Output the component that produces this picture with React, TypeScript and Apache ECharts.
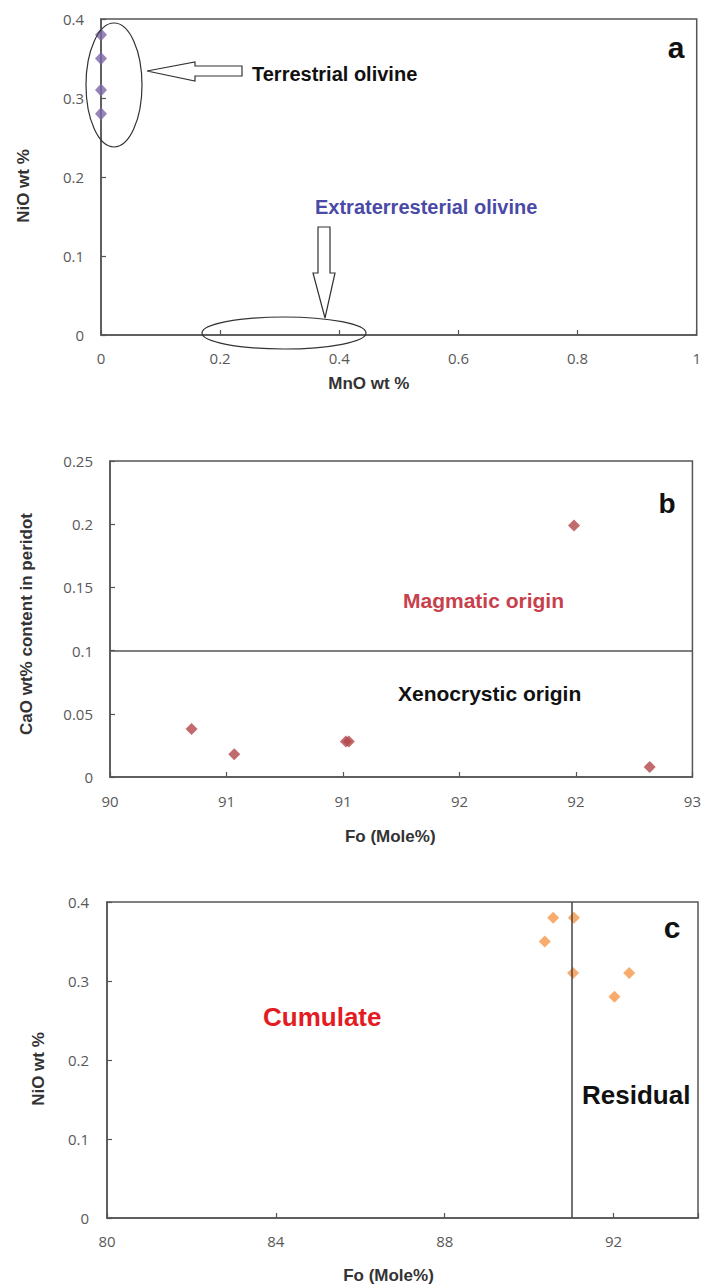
import React, { useEffect, useRef } from "react";
import * as echarts from "echarts";

// Panel a: MnO vs NiO (terrestrial olivine)
const aMnO = [0, 0, 0, 0];
const aNiO = [0.38, 0.35, 0.31, 0.28];
const aXTicks = { min: 0, max: 1, interval: 0.2 };
const aYTicks = { min: 0, max: 0.4, interval: 0.1 };

// Panel b: Fo vs CaO
const bFo = [90.42, 90.64, 91.215, 91.23, 92.39, 92.78];
const bCaO = [0.038, 0.018, 0.028, 0.028, 0.199, 0.008];
const bBoundaryCaO = 0.1;
const bXTicks = { min: 90, max: 93, interval: 0.6 };
const bYTicks = { min: 0, max: 0.25, interval: 0.05 };

// Panel c: Fo vs NiO
const cFo = [90.57, 91.06, 90.37, 91.04, 92.37, 92.02];
const cNiO = [0.38, 0.38, 0.35, 0.31, 0.31, 0.28];
const cBoundaryFo = 91;
const cXTicks = { min: 80, max: 94, interval: 4 };
const cYTicks = { min: 0, max: 0.4, interval: 0.1 };

const zip = (xs: number[], ys: number[]) => xs.map((x, i) => [x, ys[i]]);

const TITLE_FONT = "Liberation Sans";

export default function App() {
  const ref = useRef<HTMLDivElement>(null);

  useEffect(() => {
    if (!ref.current) return;
    const chart = echarts.init(ref.current, null, { renderer: "svg" });

    const axisBase = (extra: any) => ({
      type: "value",
      nameLocation: "middle",
      axisLine: { show: true, onZero: false, lineStyle: { color: "#555", width: 1.5 } },
      axisTick: { show: true, inside: true, length: 5, lineStyle: { color: "#555", width: 1.2 } },
      splitLine: { show: false },
      axisLabel: { color: "#595959", fontSize: 15, fontFamily: "Open Sans" },
      nameTextStyle: { fontFamily: TITLE_FONT, fontWeight: "bold", fontSize: 17, color: "#333" },
      ...extra,
    });

    const gridStyle = { show: true, borderColor: "#555", borderWidth: 1.5, containLabel: false };

    const option: any = {
      animation: false,
      backgroundColor: "#fff",
      grid: [
        { ...gridStyle, left: 101, top: 19, width: 596, height: 316 },
        { ...gridStyle, left: 110, top: 461, width: 583, height: 316 },
        { ...gridStyle, left: 107, top: 902, width: 591, height: 316 },
      ],
      xAxis: [
        axisBase({
          gridIndex: 0,
          ...aXTicks,
          name: "MnO wt %",
          nameGap: 40,
          nameTextStyle: { fontFamily: TITLE_FONT, fontWeight: "bold", fontSize: 17, color: "#333", padding: [0, 60, 0, 0] },
          axisLabel: { color: "#595959", fontSize: 15, fontFamily: "Open Sans", margin: 15 },
        }),
        axisBase({
          gridIndex: 1,
          ...bXTicks,
          name: "Fo (Mole%)",
          nameGap: 51,
          nameTextStyle: { fontFamily: TITLE_FONT, fontWeight: "bold", fontSize: 17, color: "#333", padding: [0, 22, 0, 0] },
          axisLabel: {
            color: "#595959", fontSize: 15, fontFamily: "Open Sans", margin: 16,
            formatter: (v: number) => String(Math.round(v)),
          },
        }),
        axisBase({
          gridIndex: 2,
          ...cXTicks,
          name: "Fo (Mole%)",
          nameGap: 49,
          nameTextStyle: { fontFamily: TITLE_FONT, fontWeight: "bold", fontSize: 17, color: "#333", padding: [0, 28, 0, 0] },
          axisLabel: {
            color: "#595959", fontSize: 15, fontFamily: "Open Sans", margin: 15,
            formatter: (v: number) => ((v - cXTicks.min) % cXTicks.interval === 0 ? String(v) : ""),
          },
        }),
      ],
      yAxis: [
        axisBase({
          gridIndex: 0,
          ...aYTicks,
          name: "NiO wt %",
          nameGap: 69,
          nameTextStyle: { fontFamily: TITLE_FONT, fontWeight: "bold", fontSize: 17, color: "#333", padding: [0, 18, 0, 0] },
          axisLabel: { color: "#595959", fontSize: 15, fontFamily: "Open Sans", margin: 17 },
        }),
        axisBase({
          gridIndex: 1,
          ...bYTicks,
          name: "CaO wt% content in peridot",
          nameGap: 75,
          nameTextStyle: { fontFamily: TITLE_FONT, fontWeight: "bold", fontSize: 17, color: "#333", padding: [0, 10, 0, 0] },
          axisLabel: { color: "#595959", fontSize: 15, fontFamily: "Open Sans", margin: 17 },
        }),
        axisBase({
          gridIndex: 2,
          ...cYTicks,
          name: "NiO wt %",
          nameGap: 60,
          nameTextStyle: { fontFamily: TITLE_FONT, fontWeight: "bold", fontSize: 17, color: "#333", padding: [0, 18, 0, 0] },
          axisLabel: { color: "#595959", fontSize: 15, fontFamily: "Open Sans", margin: 18 },
        }),
      ],
      series: [
        {
          type: "scatter",
          name: "Terrestrial olivine",
          xAxisIndex: 0,
          yAxisIndex: 0,
          symbol: "diamond",
          symbolSize: [12, 13],
          clip: false,
          itemStyle: { color: "#7d66a8" },
          data: zip(aMnO, aNiO),
          z: 5,
        },
        {
          type: "scatter",
          name: "CaO",
          xAxisIndex: 1,
          yAxisIndex: 1,
          symbol: "diamond",
          symbolSize: [12, 12],
          clip: false,
          itemStyle: { color: "#b3464a" },
          data: zip(bFo, bCaO),
          markLine: {
            silent: true,
            symbol: "none",
            label: { show: false },
            lineStyle: { color: "#555", width: 1.5, type: "solid" },
            data: [{ yAxis: bBoundaryCaO }],
          },
        },
        {
          type: "scatter",
          name: "NiO",
          xAxisIndex: 2,
          yAxisIndex: 2,
          symbol: "diamond",
          symbolSize: [12, 12],
          clip: false,
          itemStyle: { color: "#f79646" },
          data: zip(cFo, cNiO),
          markLine: {
            silent: true,
            symbol: "none",
            label: { show: false },
            lineStyle: { color: "#444", width: 1.5, type: "solid" },
            data: [{ xAxis: cBoundaryFo }],
          },
        },
      ],
    };

    chart.setOption(option);

    const txt = (text: string, x: number, y: number, size: number, fill: string, align = "left") => ({
      type: "text",
      x,
      y,
      z: 20,
      style: {
        text,
        fill,
        fontFamily: TITLE_FONT,
        fontWeight: "bold",
        fontSize: size,
        align,
        verticalAlign: "middle",
      },
    });

    const outline = { fill: "none", stroke: "#333", lineWidth: 1.2 };
    const hollow = { fill: "#fff", stroke: "#333", lineWidth: 1.2 };

    chart.setOption({
      graphic: [
        // panel a annotations
        { type: "ellipse", z: 10, shape: { cx: 114, cy: 85, rx: 28, ry: 62 }, style: outline },
        {
          type: "polygon",
          z: 10,
          shape: { points: [[147, 71], [195, 62], [195, 66], [242, 66], [242, 76], [195, 76], [195, 81]] },
          style: hollow,
        },
        txt("Terrestrial olivine", 252, 74, 20, "#111"),
        txt("Extraterresterial olivine", 315, 207, 20, "#4a4aa6"),
        {
          type: "polygon",
          z: 10,
          shape: { points: [[318, 227], [330, 227], [330, 273], [335, 273], [325, 318], [313, 273], [318, 273]] },
          style: hollow,
        },
        { type: "ellipse", z: 10, shape: { cx: 284, cy: 333, rx: 82, ry: 16 }, style: outline },
        txt("a", 676, 47, 30, "#111", "center"),
        // panel b annotations
        txt("b", 667, 503, 28, "#111", "center"),
        txt("Magmatic origin", 403, 600, 21, "#c8404c"),
        txt("Xenocrystic origin", 398, 693, 21, "#111"),
        // panel c annotations
        txt("c", 672, 927, 30, "#111", "center"),
        txt("Cumulate", 263, 1017, 26, "#e31b23"),
        txt("Residual", 582, 1095, 26, "#111"),
      ],
    });

    return () => chart.dispose();
  }, []);

  return (
    <div
      ref={ref}
      style={{ position: "absolute", left: 0, top: 0, width: 704, height: 1288, background: "#fff" }}
    />
  );
}
